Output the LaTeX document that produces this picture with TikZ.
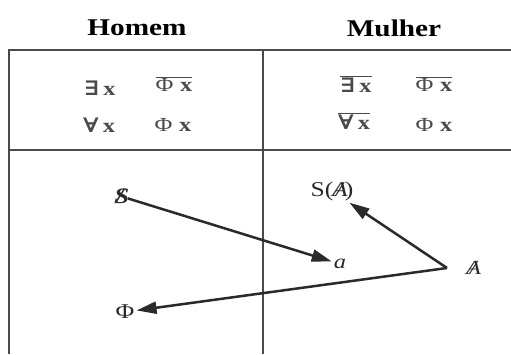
\documentclass[tikz,border=0pt]{standalone}
\usepackage{fontspec}
\setmainfont{Liberation Serif}
\newfontfamily\djv{DejaVu Serif}
\usetikzlibrary{arrows.meta}
\definecolor{ink}{HTML}{2A2A2A}
\definecolor{formula}{HTML}{4A4A4A}
\newcommand{\sx}[1]{\scalebox{1.22}[1]{#1}}
\newcommand{\phisym}{\textup{\mdseries Φ}}
\newcommand{\exq}{{\djv\bfseries ∃}}
\newcommand{\alq}{{\djv\bfseries ∀}}
\newcommand{\barS}{\rlap{\textit{\textbf{S}}}\hspace{1.5pt}\textit{\textbf{/}}}
\newcommand{\barA}{\rlap{\hspace{-1pt}\textit{A}}\hspace{2pt}\textit{/}}
\tikzset{
  frame/.style={draw=ink!85, line width=1.6pt},
  head/.style={font=\fontsize{24}{27}\selectfont\bfseries, text=black, inner sep=0pt},
  fml/.style={font=\fontsize{20}{24}\selectfont\bfseries, text=formula, inner sep=0pt},
  lbl/.style={font=\fontsize{20}{23}\selectfont, text=ink, inner sep=2pt},
  arr/.style={draw=ink, line width=2.5pt, -{Triangle[length=20pt,width=12pt]}}
}
\begin{document}
\begin{tikzpicture}[x=1pt,y=-1pt]
\useasboundingbox (0,0) rectangle (511,354);
\fill[white] (0,0) rectangle (511,354);
% frame
\draw[frame] (511,50) -- (9,50) -- (9,354);
\draw[frame] (9,150) -- (511,150);
\draw[frame] (263,50) -- (263,354);
% headers
\node[head] (homem) at (137,28) {\sx{Homem}};
\node[head] (mulher) at (394,28) {\sx{Mulher}};
% formulas, man side
\node[fml] (e1) at (100,88) {\sx{\exq\,x}};
\node[fml] (p1) at (174,84) {\sx{$\overline{\mbox{\phisym\;x}}$}};
\node[fml] (a1) at (99,125) {\sx{\alq\,x}};
\node[fml] (p2) at (173,125) {\sx{\phisym\;x}};
% formulas, woman side
\node[fml] (e2) at (356,84) {\sx{$\overline{\mbox{\exq\,x}}$}};
\node[fml] (p3) at (434,84) {\sx{$\overline{\mbox{\phisym\;x}}$}};
\node[fml] (a2) at (354,121) {\sx{$\overline{\mbox{\alq\,x}}$}};
\node[fml] (p4) at (434,125) {\sx{\phisym\;x}};
% lower cells
\node[lbl, font=\fontsize{22}{24}\selectfont] (S) at (120,196) {\sx{\barS}};
\node[lbl, font=\fontsize{20}{22}\selectfont\itshape] (a) at (340,264) {\sx{a}};
\node[lbl, font=\fontsize{21}{24}\selectfont] (SA) at (332,191) {\sx{S(\barA)}};
\node[lbl] (A) at (473,268) {\sx{\barA}};
\node[lbl, font=\fontsize{21}{24}\selectfont] (Phi) at (125,312) {\sx{\phisym}};
\coordinate (vx) at (447,268);
% arrows
\draw[arr] (S) -- (a);
\draw[arr] (vx) -- (SA);
\draw[arr] (vx) -- (Phi);
\end{tikzpicture}
\end{document}
